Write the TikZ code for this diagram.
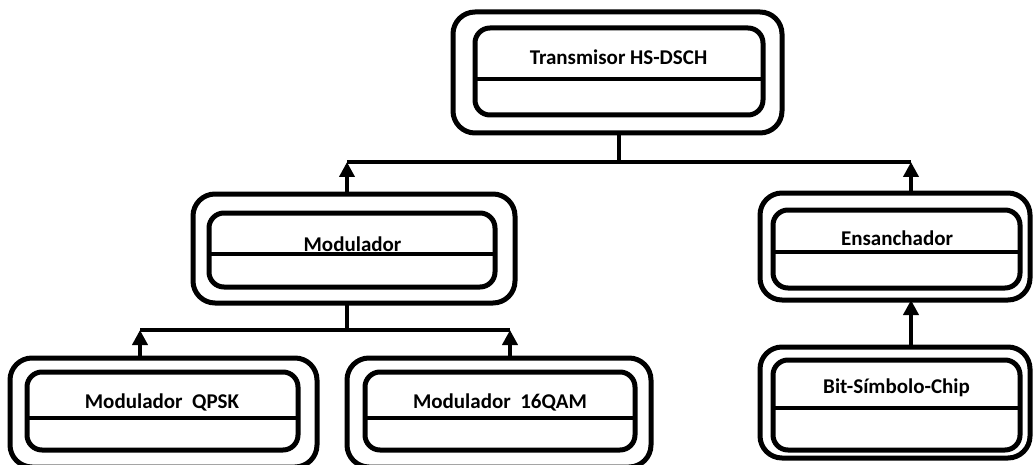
\documentclass[tikz,border=0pt]{standalone}
\usepackage{fontspec}
\setmainfont{Carlito}
\usetikzlibrary{positioning,arrows.meta}

\begin{document}
\begin{tikzpicture}[x=1pt, y=-1pt,
                outerbox/.style = {draw, line width=5pt, rounded corners=22pt, inner sep=0pt, outer sep=0pt},
                innerbox/.style = {draw, line width=5pt, rounded corners=15pt, inner sep=0pt, outer sep=0pt},
                boxtext/.style = {font=\fontsize{21}{25}\selectfont\bfseries, inner sep=0pt, anchor=base},
                link/.style = {line width=4.5pt},
                up/.style = {link, -{Triangle[length=15pt,width=15pt]}}]
            \useasboundingbox (0,0) rectangle (1035,465);
            % top
            \node[outerbox, minimum width=329, minimum height=121] (tx) at (617.5,72.5) {};
            \node[innerbox, minimum width=288, minimum height=87] (txi) at (619,71.5) {};
            \draw[link] (txi.west |- 0,79) -- (txi.east |- 0,79);
            \node[boxtext] (txt) at (618.5,65) {Transmisor HS-DSCH};
            % second level
            \node[outerbox, minimum width=322, minimum height=109] (mod) at (354,248.5) {};
            \node[innerbox, minimum width=286, minimum height=74] (modi) at (352,250) {};
            \draw[link] (modi.west |- 0,254) -- (modi.east |- 0,254);
            \node[boxtext] (modt) at (352.5,251) {Modulador};
            \node[outerbox, minimum width=270, minimum height=107] (ens) at (895,246.5) {};
            \node[innerbox, minimum width=247, minimum height=78] (ensi) at (896.5,249) {};
            \draw[link] (ensi.west |- 0,252) -- (ensi.east |- 0,252);
            \node[boxtext] (enst) at (897,245) {Ensanchador};
            % bottom level
            \node[outerbox, minimum width=307, minimum height=109] (qpsk) at (163.5,412.5) {};
            \node[innerbox, minimum width=271, minimum height=78] (qpski) at (162.5,411) {};
            \draw[link] (qpski.west |- 0,418) -- (qpski.east |- 0,418);
            \node[boxtext] (qpskt) at (162,408) {Modulador\ \ QPSK};
            \node[outerbox, minimum width=304, minimum height=109] (qam) at (499,412.5) {};
            \node[innerbox, minimum width=270, minimum height=78] (qami) at (500,411) {};
            \draw[link] (qami.west |- 0,418) -- (qami.east |- 0,418);
            \node[boxtext] (qamt) at (500,408) {Modulador\ \ 16QAM};
            \node[outerbox, minimum width=270, minimum height=111] (bit) at (895,402.5) {};
            \node[innerbox, minimum width=247, minimum height=90] (biti) at (896.5,405) {};
            \draw[link] (biti.west |- 0,408) -- (biti.east |- 0,408);
            \node[boxtext] (bitt) at (896.5,393) {Bit-Símbolo-Chip};
            % connectors
            \coordinate (j1) at (619,162);
            \coordinate (m1) at (347,162);
            \coordinate (e1) at (911,162);
            \draw[link] (tx.south -| j1) -- (j1);
            \draw[link] (m1) -- (e1);
            \draw[up] (mod.north -| m1) -- (m1);
            \draw[up] (ens.north -| e1) -- (e1);
            \coordinate (j2) at (347,330);
            \coordinate (q1) at (140,330);
            \coordinate (a1) at (510,330);
            \draw[link] (mod.south -| j2) -- (j2);
            \draw[link] (q1) -- (a1);
            \draw[up] (qpsk.north -| q1) -- (q1);
            \draw[up] (qam.north -| a1) -- (a1);
            \draw[up] (bit.north -| e1) -- (ens.south -| e1);
\end{tikzpicture}
\end{document}
